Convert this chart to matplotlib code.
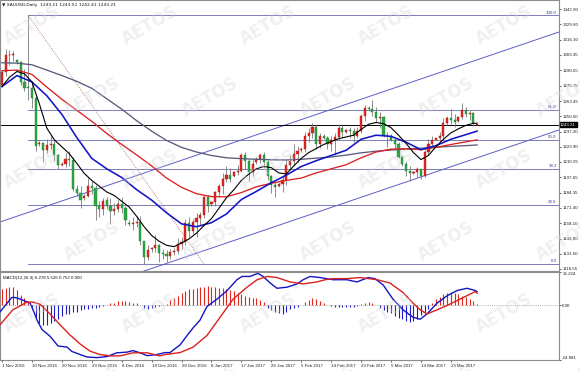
import numpy as np
import matplotlib
matplotlib.use("Agg")
import matplotlib.pyplot as plt

# ---------------- data ----------------
opens = [1277.5,1288.6,1302.9,1303.6,1298.5,1297.0,1279.6,1275.0,1274.5,1266.4,
         1226.0,1227.5,1221.0,1225.5,1226.2,1216.5,1208.5,1209.5,1213.8,1212.5,
         1187.8,1183.9,1180.0,1181.5,1190.5,1188.5,1172.5,1170.0,1178.5,1173.0,
         1168.8,1170.6,1174.2,1171.3,1158.5,1157.0,1158.3,1159.5,1142.5,1129.2,
         1135.5,1136.5,1139.5,1132.4,1131.2,1130.0,1133.0,1134.0,1140.2,1142.0,
         1158.2,1151.5,1159.0,1162.5,1165.2,1180.8,1174.5,1176.5,1185.0,1190.5,
         1196.0,1199.5,1198.5,1202.0,1203.5,1217.0,1212.0,1202.0,1210.5,1213.5,
         1216.5,1211.0,1199.0,1191.0,1190.0,1192.0,1195.5,1208.5,1211.5,1217.5,
         1221.0,1222.5,1233.5,1236.0,1241.5,1226.0,1233.0,1232.0,1226.0,1229.5,
         1232.5,1240.0,1237.0,1238.5,1237.5,1233.5,1237.5,1250.5,1257.0,1256.5,
         1254.0,1248.5,1249.5,1234.0,1233.0,1230.0,1226.0,1215.5,1209.0,1203.0,
         1201.5,1202.5,1204.5,1199.0,1219.5,1226.5,1230.0,1231.5,1233.5,1244.5,
         1248.5,1247.5,1246.5,1249.5,1255.5,1252.5,1253.0,1243.11]
highs = [1290.5,1308.0,1307.5,1306.8,1299.5,1298.0,1291.0,1337.4,1281.0,1268.5,
         1230.0,1228.5,1230.5,1233.0,1230.0,1218.0,1211.0,1218.5,1220.0,1215.0,
         1191.0,1190.0,1183.0,1197.0,1194.5,1191.0,1177.5,1180.0,1181.0,1180.0,
         1175.5,1178.0,1180.5,1173.0,1160.5,1163.5,1164.0,1164.5,1143.0,1139.0,
         1137.5,1147.5,1140.5,1136.0,1134.5,1136.0,1136.5,1145.0,1146.0,1161.5,
         1163.5,1162.0,1166.5,1167.5,1182.0,1182.5,1177.5,1186.0,1191.5,1201.5,
         1207.5,1206.0,1203.0,1208.5,1218.5,1219.5,1213.5,1213.0,1215.0,1218.5,
         1219.5,1212.5,1200.0,1194.0,1193.0,1199.5,1213.0,1217.0,1226.0,1225.0,
         1224.0,1237.0,1240.0,1244.5,1242.5,1236.0,1235.0,1233.5,1233.5,1236.0,
         1243.5,1242.5,1239.5,1241.0,1240.0,1241.0,1252.5,1260.0,1259.5,1264.0,
         1258.0,1254.0,1250.5,1237.0,1235.0,1232.0,1228.0,1217.0,1210.5,1207.0,
         1203.5,1206.5,1205.0,1221.0,1231.0,1233.5,1232.0,1237.0,1248.5,1250.5,
         1257.0,1252.5,1250.5,1261.5,1258.5,1256.0,1254.0,1243.51]
lows = [1276.0,1285.5,1294.5,1298.0,1295.8,1277.5,1272.5,1264.0,1257.5,1220.0,
        1224.5,1210.5,1218.5,1222.0,1211.5,1204.5,1207.0,1206.5,1207.0,1185.5,
        1181.5,1171.5,1178.0,1181.0,1183.5,1160.5,1163.5,1165.0,1170.0,1157.0,
        1165.0,1168.0,1167.0,1156.5,1155.5,1152.5,1155.0,1139.5,1122.9,1126.0,
        1133.5,1133.0,1124.5,1127.5,1124.5,1127.5,1130.5,1131.5,1135.5,1139.0,
        1146.5,1148.5,1146.5,1156.5,1162.5,1167.5,1172.5,1172.5,1181.0,1183.5,
        1193.5,1193.5,1197.5,1200.0,1202.0,1205.0,1194.5,1199.0,1209.5,1210.0,
        1206.0,1195.0,1184.5,1180.5,1189.0,1185.0,1191.0,1204.0,1208.0,1211.0,
        1219.5,1219.5,1228.0,1231.5,1222.5,1223.0,1231.0,1222.5,1220.5,1216.5,
        1230.0,1231.5,1236.0,1232.0,1228.5,1232.0,1236.0,1246.5,1255.0,1251.0,
        1245.5,1240.5,1232.5,1224.0,1229.0,1222.5,1214.5,1207.5,1198.5,1194.5,
        1200.5,1198.0,1196.0,1197.5,1217.0,1223.5,1229.5,1228.0,1230.0,1243.0,
        1244.0,1241.0,1245.0,1248.0,1249.5,1247.5,1242.0,1242.41]
closes = [1288.6,1302.9,1303.6,1304.2,1297.0,1279.6,1275.0,1274.5,1266.4,1224.4,
          1227.5,1221.0,1225.5,1226.2,1216.5,1208.5,1209.5,1213.8,1212.5,1187.8,
          1183.9,1178.2,1181.5,1190.5,1188.5,1172.5,1170.0,1177.2,1173.0,1168.8,
          1170.6,1174.2,1171.3,1160.6,1157.0,1158.3,1159.5,1142.5,1129.2,1134.9,
          1136.5,1139.5,1132.4,1131.2,1130.0,1133.0,1134.0,1140.2,1142.0,1158.2,
          1151.5,1159.0,1162.5,1165.2,1180.8,1173.0,1176.5,1185.0,1190.5,1196.0,
          1199.5,1196.5,1202.0,1203.5,1217.0,1212.0,1202.0,1209.5,1213.5,1216.5,
          1211.0,1199.0,1191.0,1189.0,1192.0,1195.5,1208.5,1211.5,1217.5,1220.5,
          1222.5,1233.5,1236.0,1241.5,1226.0,1233.0,1232.0,1226.0,1229.5,1232.5,
          1240.0,1236.5,1238.5,1237.5,1233.5,1237.5,1250.5,1257.5,1256.5,1254.0,
          1248.5,1249.5,1234.0,1234.5,1230.0,1226.0,1215.5,1209.0,1203.0,1201.5,
          1202.5,1204.5,1199.0,1219.5,1226.5,1229.5,1231.5,1233.5,1244.5,1248.5,
          1247.5,1245.5,1249.5,1255.5,1252.5,1253.0,1244.2,1243.21]

tick_labels = ["1 Nov 2016", "10 Nov 2016", "20 Nov 2016", "29 Nov 2016", "8 Dec 2016",
               "18 Dec 2016", "28 Dec 2016", "8 Jan 2017", "17 Jan 2017", "26 Jan 2017",
               "5 Feb 2017", "14 Feb 2017", "23 Feb 2017", "5 Mar 2017", "14 Mar 2017",
               "23 Mar 2017"]

# moving averages
ma_bars = [0,4,8,12,16,20,24,28,32,36,40,44,48,52,56,60,64,68,72,76,80,84,88,92,
           96,100,104,108,112,116,120,124,127]
ma_gray = [1296.5,1296.2,1294.8,1290.2,1285.5,1280.5,1274.5,1265.5,1256.5,1246.5,
           1237.5,1229.5,1223.5,1219.5,1216.5,1214.5,1213.8,1213.2,1212.8,1212.6,
           1213.2,1214.2,1215.2,1216.8,1218.8,1220.2,1221.2,1222.0,1222.8,1223.6,
           1224.4,1225.0,1225.6]
ma_red = [1289.7,1290.2,1286.5,1275.5,1265.0,1255.5,1246.0,1235.5,1226.0,1217.0,
          1207.5,1197.0,1189.0,1183.5,1181.0,1180.8,1184.5,1189.5,1192.5,1195.0,
          1197.0,1201.5,1205.0,1208.5,1214.5,1219.5,1222.0,1222.3,1221.5,1223.5,
          1226.0,1228.3,1230.0]
ma_blue = [1276.0,1285.5,1280.0,1268.0,1252.0,1232.0,1214.0,1205.0,1197.5,1187.0,
           1178.0,1167.0,1157.5,1155.0,1158.5,1166.0,1178.5,1185.5,1193.0,1199.5,
           1207.0,1212.0,1216.5,1221.0,1230.5,1234.0,1233.0,1228.0,1221.5,1225.0,
           1230.5,1234.5,1237.5]
fast_bars = [0,2,4,6,8,10,12,14,16,18,20,22,24,26,28,30,32,34,36,38,40,42,44,46,48,
             50,52,54,56,58,60,62,64,66,68,70,72,74,76,78,80,82,84,86,88,90,92,94,
             96,98,100,102,104,106,108,110,112,114,116,118,120,122,124,126,127]
ma_black = [1276,1284,1289,1287,1280,1261,1240,1230,1224,1218,1209.7,1201,1195,1190,
            1185,1182,1177,1172,1164,1155,1147.5,1142.5,1139,1137.8,1141,1144.5,
            1149.5,1156,1162,1171,1180,1187,1195,1200.5,1205,1207,1206,1201.5,1200.5,
            1207.5,1214,1219,1222.5,1226,1228.5,1231,1232.5,1234,1239,1243.5,1245,
            1244,1240.5,1234,1227,1219,1213,1216.5,1224,1230.5,1236,1239.5,1242.5,
            1244.3,1244.3]

# MACD(12,26,9) lines, read at the bar positions where they were measured
macd_bars = [-0.5,2.6,3.5,4.8,7.5,8.3,9.4,10.7,12.8,15.0,17.4,18.7,20.9,22.7,25.4,
             28.1,30.7,33.4,35.0,36.9,38.8,41.4,43.6,44.9,47.6,49.5,51.1,52.9,54.8,
             57.5,60.2,62.8,64.2,66.3,68.4,69.8,71.7,73.5,76.2,78.9,80.5,82.4,85.0,
             88.5,92.2,94.9,97.9,99.7,101.9,104.5,107.2,109.9,111.8,113.6,116.3,119.0,
             121.7,124.3,126.5,127.0]
macd_main = [-2.9,3.6,3.6,2.9,1.1,-2.0,-6.8,-11.0,-14.0,-18.5,-19.0,-21.0,-22.4,-23.5,
             -23.8,-23.3,-21.6,-21.3,-20.6,-21.6,-22.9,-22.4,-21.5,-21.5,-18.0,-13.7,
             -10.2,-6.8,-0.5,2.9,6.8,11.7,13.2,13.2,14.6,13.2,10.2,7.8,8.3,9.8,11.7,
             13.2,12.7,11.7,11.7,10.7,12.7,12.2,9.3,2.9,-2.0,-5.4,-6.3,-3.9,1.0,4.4,
             6.8,7.8,6.8,6.278]
signal_bars = [-0.5,2.9,6.7,8.3,10.2,12.8,15.5,18.2,20.9,23.5,26.2,28.9,31.6,35.0,
               38.8,42.2,43.6,47.6,51.1,54.8,58.3,61.8,65.5,68.2,70.9,73.5,77.0,80.5,
               84.2,86.4,88.5,92.2,95.7,100.3,103.7,107.2,109.9,111.8,113.6,116.3,
               119.0,122.5,126.5,127.0]
macd_signal = [-8.8,-2.0,1.5,1.5,0.5,-3.8,-8.8,-13.5,-17.6,-20.8,-22.4,-23.0,-23.0,
               -21.6,-21.6,-23.0,-22.4,-21.5,-19.0,-13.7,-5.4,2.9,8.3,11.7,13.2,12.7,
               10.7,9.8,10.7,11.7,12.2,12.2,12.7,11.7,10.2,5.9,1.0,-2.0,-3.9,-2.0,0.0,
               2.9,6.3,5.526]
macd_hist = [7.5,7.8,8.3,8.3,6.8,4.9,3.4,2.0,-1.5,-5.4,-7.8,-8.8,-8.8,-7.8,-7.2,-6.3,
             -4.7,-3.9,-3.9,-3.1,-3.1,-2.3,-1.8,-1.5,-1.1,-1.0,-0.7,-0.4,0.2,1.0,1.3,
             1.8,2.1,1.8,1.5,1.3,1.0,0.1,-1.1,-1.5,-1.1,-0.7,-0.4,0.1,0.5,2.4,3.5,4.5,
             5.5,6.6,7.3,7.5,7.8,8.2,8.6,8.8,8.6,8.4,8.1,8.0,7.4,6.8,6.6,5.8,5.0,4.4,
             4.0,3.5,3.2,2.6,1.5,-1.0,-2.0,-2.8,-3.6,-3.7,-2.8,-1.8,-1.2,-0.6,0.3,1.5,
             2.5,3.4,3.0,2.2,1.0,0.3,-0.4,-0.6,-0.7,-0.7,-0.8,-0.7,-0.6,-0.3,0.8,1.3,
             1.5,1.2,0.4,-1.0,-2.0,-2.8,-3.6,-4.8,-5.6,-6.4,-7.2,-7.4,-6.9,-6.0,-4.6,
             -3.0,-1.5,1.2,2.8,4.0,5.2,5.8,5.9,5.6,5.1,4.5,3.8,3.0,2.2,0.752]

price_ticks = [1342.90,1329.60,1316.30,1303.35,1290.05,1276.75,1263.45,1250.50,1237.20,
               1223.90,1210.95,1197.65,1184.35,1171.40,1158.10,1144.80,1131.50,1118.55]
macd_ticks = [15.224, 0.0, -24.881]
macd_tick_labels = ["15.224", "0.00", "-24.881"]

# drawing objects
fib_ratios = [0.0, 23.6, 38.2, 50.0, 61.8, 100.0]
fib_high, fib_low = 1337.38, 1122.88
fib_start_bar, fib_end_bar = 7, 54
chan_bars = [-0.53, 148.9]
chan_upper = [1159.1, 1323.1]
chan_lower = [1074.5, 1238.5]
last_price = 1243.21

# ---------------- layout ----------------
W, H = 580, 371
fig = plt.figure(figsize=(W / 100, H / 100), dpi=100)
fig.patch.set_facecolor("white")
FONT = ["Liberation Sans", "DejaVu Sans"]
FS = 3.2

ax = fig.add_axes([0, (H - 271) / H, 559 / W, 271 / H])
axm = fig.add_axes([0, 11 / H, 559 / W, 88 / H])
XMIN, XMAX = -0.53, 148.9
for a in (ax, axm):
    a.set_xlim(XMIN, XMAX)
    a.set_facecolor("white")
    for s in a.spines.values():
        s.set_color("#8c8c8c")
        s.set_linewidth(0.8)
ax.set_ylim(1116.8, 1350.7)
axm.set_ylim(-24.881, 15.224)

n = len(closes)
idx = np.arange(n)
o = np.array(opens); h = np.array(highs); l = np.array(lows); c = np.array(closes)

# fib levels
rng = fib_high - fib_low
for r in fib_ratios:
    lvl = fib_low + rng * r / 100.0
    ax.plot([fib_start_bar, XMAX], [lvl, lvl], color="#7c7cb8", lw=0.7, zorder=1)
    ax.text(XMAX - 0.6, lvl + 0.8, f"{r:.1f}", color="#3a3aa0", fontsize=FS,
            ha="right", va="bottom", family=FONT, zorder=6)
ax.plot([fib_start_bar, fib_end_bar], [fib_high, fib_low], color="#b06060", lw=0.6,
        ls=(0, (1, 1.4)), zorder=1)

# channel
ax.plot(chan_bars, chan_upper, color="#5d5dc8", lw=0.7, zorder=1)
ax.plot(chan_bars, chan_lower, color="#5d5dc8", lw=0.7, zorder=1)

# current price line
ax.axhline(last_price, color="black", lw=0.7, zorder=1)

# candles
up = c >= o
ax.vlines(idx, l, h, color="#7a7a7a", lw=0.6, zorder=3)
body = np.where(np.abs(c - o) < 0.6, 0.6, c - o)
ax.bar(idx[up], body[up], bottom=o[up], width=0.58, color="#e0261e",
       edgecolor="#b01818", lw=0.3, zorder=4)
ax.bar(idx[~up], body[~up], bottom=o[~up], width=0.58, color="#2ea843",
       edgecolor="#1f7d30", lw=0.3, zorder=4)

# moving averages
ax.plot(ma_bars, ma_gray, color="#5a5a7c", lw=0.95, zorder=5)
ax.plot(ma_bars, ma_red, color="#dc2020", lw=0.95, zorder=5)
ax.plot(ma_bars, ma_blue, color="#1414c8", lw=1.15, zorder=5)
ax.plot(fast_bars, ma_black, color="black", lw=0.8, zorder=5)

# price axis
for a in (ax, axm):
    a.yaxis.tick_right()
    a.tick_params(axis="y", labelsize=FS, length=1.5, width=0.5, pad=0.8,
                  colors="#222222")
ax.set_yticks(price_ticks)
ax.set_yticklabels([f"{v:.2f}" for v in price_ticks], family=FONT)
ax.set_xticks([])
ax.text(1.002, last_price, f"{last_price:.2f}", transform=ax.get_yaxis_transform(),
        fontsize=FS, color="white", family=FONT, ha="left", va="center",
        bbox=dict(boxstyle="square,pad=0.12", fc="black", ec="black"), clip_on=False,
        zorder=10)
ax.text(0.004, 0.988, "\u25BC XAUUSD,Daily  1243.11 1243.51 1242.41 1243.21",
        transform=ax.transAxes, fontsize=FS, family=["DejaVu Sans"], ha="left", va="top",
        color="#111111", zorder=10)

# MACD panel
axm.axhline(0, color="#9a9a9a", lw=0.6, ls=(0, (1, 1.5)), zorder=1)
hist = np.array(macd_hist)
hcol = np.where(hist >= 0, "#e0261e", "#1e1ec8")
axm.vlines(idx, 0, hist, colors=hcol, lw=0.8, zorder=2)
axm.plot(macd_bars, macd_main, color="#1414c8", lw=1.0, zorder=3)
axm.plot(signal_bars, macd_signal, color="#dc2020", lw=1.0, zorder=3)
axm.set_yticks(macd_ticks)
axm.set_yticklabels(macd_tick_labels, family=FONT)
tl = axm.get_yticklabels()
tl[0].set_va("top"); tl[2].set_va("bottom")
axm.text(0.005, 0.96, "MACD(12,26,9) 6.278 5.526 0.752 0.000", transform=axm.transAxes,
         fontsize=FS, family=FONT, ha="left", va="top", color="#111111", zorder=10)
axm.set_xticks(np.arange(len(tick_labels)) * 8)
axm.set_xticklabels(tick_labels, family=FONT, ha="left")
axm.tick_params(axis="x", labelsize=FS, length=1.5, width=0.5, pad=1.5,
                colors="#222222")

# watermark
for r in range(6):
    y = 25 + 72 * r
    x0 = 150 if r % 2 == 0 else 92
    for k in range(-1, 5):
        x = x0 + 118 * k
        fig.text(x / W, 1 - y / H, "AETOS", fontsize=12, fontweight="bold",
                 color="#d4d4d4", alpha=0.35, rotation=30, ha="center",
                 va="center", family="DejaVu Sans", zorder=20)

fig.savefig("out.png", dpi=100, facecolor="white")
